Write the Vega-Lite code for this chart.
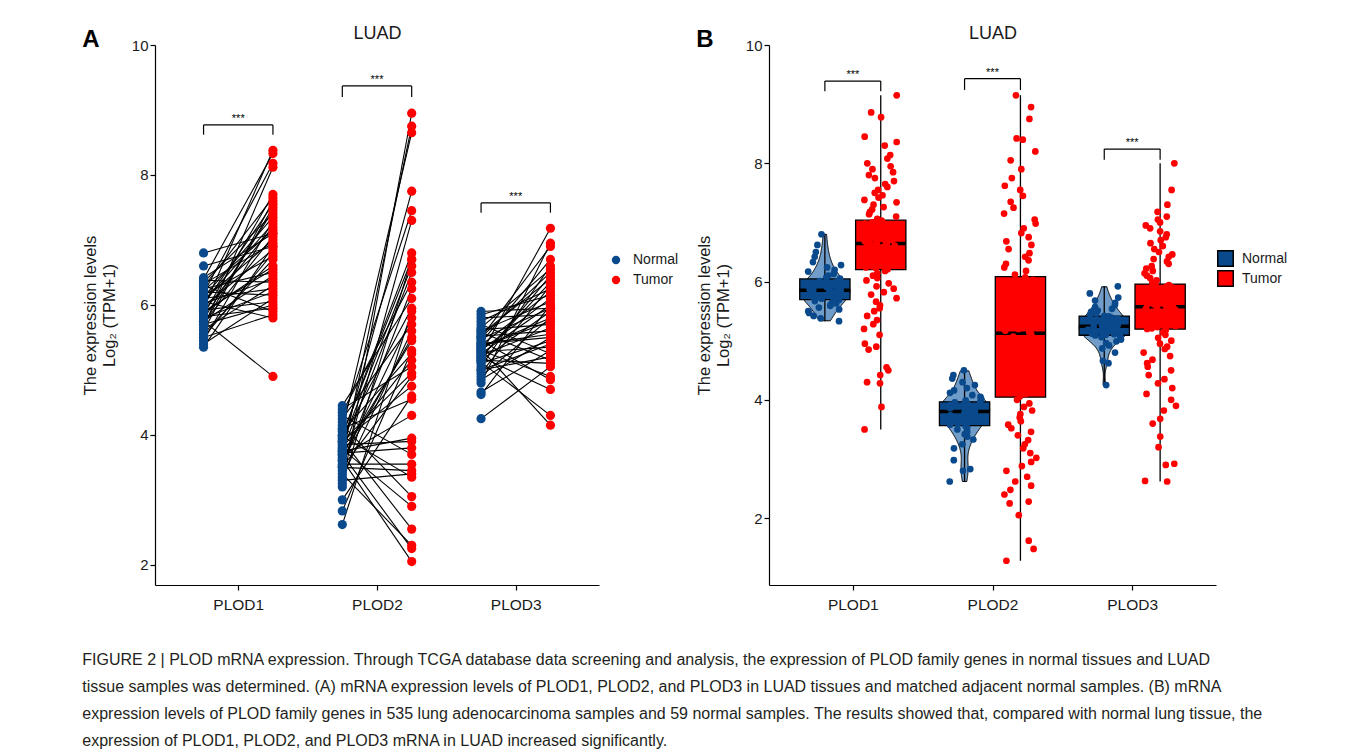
{
"$schema": "https://vega.github.io/schema/vega-lite/v6.json",
"padding": {"left": 82, "top": 24, "right": 5, "bottom": 5},
"background": "white",
"bounds": "flush",
"spacing": 170,
"config": {
 "font": "Liberation Sans",
 "view": {"stroke": null},
 "axis": {"grid": false, "domainColor": "#000", "domainWidth": 1.2, "tickColor": "#000", "tickWidth": 1.2, "tickSize": 5, "labelColor": "#1a1a1a", "labelFontSize": 15, "labelFont": "Liberation Sans", "titleFont": "Liberation Sans", "titleFontSize": 16.5, "titleFontWeight": "normal", "titleColor": "#1a1a1a", "titleLineHeight": 19},
 "legend": {"labelFont": "Liberation Sans", "labelFontSize": 14, "labelColor": "#1a1a1a"},
 "title": {"font": "Liberation Sans", "color": "#000"}
},
"title": {"text": ["FIGURE 2 | PLOD mRNA expression. Through TCGA database data screening and analysis, the expression of PLOD family genes in normal tissues and LUAD", "tissue samples was determined. (A) mRNA expression levels of PLOD1, PLOD2, and PLOD3 in LUAD tissues and matched adjacent normal samples. (B) mRNA", "expression levels of PLOD family genes in 535 lung adenocarcinoma samples and 59 normal samples. The results showed that, compared with normal lung tissue, the", "expression of PLOD1, PLOD2, and PLOD3 mRNA in LUAD increased significantly."], "orient": "bottom", "anchor": "start", "frame": "bounds", "fontSize": 16, "fontWeight": "normal", "lineHeight": 27.3, "offset": 39, "color": "#231f20"},
"datasets": {
 "pairs": [
  {"N1":5.35,"T1":6.9,"N2":2.62,"T2":5.9,"N3":4.25,"T3":5.05},
  {"N1":5.4,"T1":6.1,"N2":2.83,"T2":5.3,"N3":4.62,"T3":6.0},
  {"N1":5.45,"T1":7.3,"N2":3.0,"T2":4.6,"N3":4.66,"T3":5.3},
  {"N1":5.5,"T1":5.85,"N2":3.2,"T2":8.95,"N3":4.8,"T3":6.95},
  {"N1":5.55,"T1":6.7,"N2":3.25,"T2":6.7,"N3":4.85,"T3":5.5},
  {"N1":5.6,"T1":7.6,"N2":3.3,"T2":3.4,"N3":4.9,"T3":5.8},
  {"N1":5.62,"T1":6.3,"N2":3.35,"T2":5.6,"N3":4.95,"T3":6.3},
  {"N1":5.65,"T1":8.12,"N2":3.4,"T2":2.3,"N3":5.0,"T3":5.2},
  {"N1":5.7,"T1":6.0,"N2":3.45,"T2":7.3,"N3":5.05,"T3":6.6},
  {"N1":5.72,"T1":7.05,"N2":3.5,"T2":4.9,"N3":5.1,"T3":5.45},
  {"N1":5.75,"T1":6.45,"N2":3.52,"T2":6.25,"N3":5.12,"T3":4.3},
  {"N1":5.78,"T1":7.45,"N2":3.55,"T2":3.55,"N3":5.15,"T3":5.9},
  {"N1":5.8,"T1":6.2,"N2":3.6,"T2":5.8,"N3":5.18,"T3":6.45},
  {"N1":5.82,"T1":5.95,"N2":3.62,"T2":2.05,"N3":5.2,"T3":4.7},
  {"N1":5.85,"T1":7.7,"N2":3.65,"T2":8.75,"N3":5.22,"T3":5.65},
  {"N1":5.88,"T1":6.6,"N2":3.68,"T2":4.3,"N3":5.25,"T3":7.18},
  {"N1":5.9,"T1":7.2,"N2":3.7,"T2":5.45,"N3":5.28,"T3":5.35},
  {"N1":5.92,"T1":6.05,"N2":3.72,"T2":3.8,"N3":5.3,"T3":6.1},
  {"N1":5.95,"T1":8.38,"N2":3.75,"T2":6.5,"N3":5.32,"T3":4.15},
  {"N1":5.98,"T1":6.85,"N2":3.78,"T2":2.9,"N3":5.35,"T3":5.75},
  {"N1":6.0,"T1":7.55,"N2":3.8,"T2":5.15,"N3":5.38,"T3":6.2},
  {"N1":6.02,"T1":6.4,"N2":3.82,"T2":7.75,"N3":5.4,"T3":5.55},
  {"N1":6.05,"T1":5.8,"N2":3.85,"T2":3.9,"N3":5.42,"T3":6.7},
  {"N1":6.08,"T1":7.0,"N2":3.88,"T2":6.6,"N3":5.45,"T3":4.85},
  {"N1":6.1,"T1":6.25,"N2":3.9,"T2":4.75,"N3":5.48,"T3":5.95},
  {"N1":6.12,"T1":7.35,"N2":3.92,"T2":2.55,"N3":5.5,"T3":6.9},
  {"N1":6.15,"T1":6.75,"N2":3.95,"T2":5.95,"N3":5.52,"T3":5.6},
  {"N1":6.18,"T1":8.18,"N2":3.98,"T2":3.35,"N3":5.55,"T3":6.4},
  {"N1":6.2,"T1":6.15,"N2":4.0,"T2":6.8,"N3":5.58,"T3":5.15},
  {"N1":6.22,"T1":7.15,"N2":4.05,"T2":5.25,"N3":5.6,"T3":6.05},
  {"N1":6.25,"T1":6.5,"N2":4.08,"T2":8.65,"N3":5.62,"T3":5.7},
  {"N1":6.28,"T1":7.65,"N2":4.1,"T2":4.55,"N3":5.65,"T3":6.55},
  {"N1":6.3,"T1":5.9,"N2":4.15,"T2":3.05,"N3":5.7,"T3":5.25},
  {"N1":6.32,"T1":6.95,"N2":4.2,"T2":7.45,"N3":5.75,"T3":6.25},
  {"N1":6.35,"T1":7.4,"N2":4.25,"T2":5.7,"N3":5.8,"T3":5.85},
  {"N1":6.38,"T1":6.35,"N2":4.3,"T2":3.7,"N3":5.85,"T3":6.15},
  {"N1":6.4,"T1":8.33,"N2":4.35,"T2":6.35,"N3":5.9,"T3":5.95},
  {"N1":6.42,"T1":7.1,"N2":4.4,"T2":5.05,"N3":5.0,"T3":5.4},
  {"N1":5.5,"T1":6.8,"N2":4.45,"T2":6.1,"N3":5.2,"T3":6.35},
  {"N1":5.7,"T1":7.5,"N2":3.7,"T2":2.25,"N3":5.3,"T3":4.9},
  {"N1":5.9,"T1":6.55,"N2":3.75,"T2":3.95,"N3":5.4,"T3":5.5},
  {"N1":6.05,"T1":7.25,"N2":3.6,"T2":5.5,"N3":5.5,"T3":6.5},
  {"N1":6.6,"T1":6.9,"N2":3.9,"T2":4.95,"N3":5.15,"T3":5.1},
  {"N1":6.8,"T1":7.1,"N2":4.0,"T2":6.7,"N3":5.35,"T3":5.8},
  {"N1":5.75,"T1":4.9,"N2":3.5,"T2":3.45,"N3":5.25,"T3":6.0}
 ],
 "bracketsA": [
  {"g":1,"top":8.77,"bot":8.62},
  {"g":2,"top":9.37,"bot":9.2},
  {"g":3,"top":7.57,"bot":7.42}
 ],
 "bracketsB": [
  {"g":1,"top":9.39,"bot":9.22},
  {"g":2,"top":9.43,"bot":9.24},
  {"g":3,"top":8.24,"bot":8.06}
 ],
 "tcga": [
  {"group":"Normal","P1":5.33,"P2":2.62,"P3":4.25},
  {"group":"Normal","P1":5.38,"P2":2.8,"P3":4.62},
  {"group":"Normal","P1":5.42,"P2":2.83,"P3":4.66},
  {"group":"Normal","P1":5.47,"P2":2.98,"P3":4.8},
  {"group":"Normal","P1":5.5,"P2":3.18,"P3":4.87},
  {"group":"Normal","P1":5.53,"P2":3.25,"P3":4.92},
  {"group":"Normal","P1":5.56,"P2":3.33,"P3":4.96},
  {"group":"Normal","P1":5.59,"P2":3.38,"P3":4.99},
  {"group":"Normal","P1":5.61,"P2":3.42,"P3":5.02},
  {"group":"Normal","P1":5.63,"P2":3.46,"P3":5.04},
  {"group":"Normal","P1":5.65,"P2":3.5,"P3":5.06},
  {"group":"Normal","P1":5.67,"P2":3.53,"P3":5.07},
  {"group":"Normal","P1":5.69,"P2":3.56,"P3":5.09},
  {"group":"Normal","P1":5.71,"P2":3.58,"P3":5.1},
  {"group":"Normal","P1":5.72,"P2":3.6,"P3":5.11},
  {"group":"Normal","P1":5.74,"P2":3.62,"P3":5.12},
  {"group":"Normal","P1":5.75,"P2":3.64,"P3":5.14},
  {"group":"Normal","P1":5.77,"P2":3.66,"P3":5.15},
  {"group":"Normal","P1":5.78,"P2":3.68,"P3":5.16},
  {"group":"Normal","P1":5.8,"P2":3.7,"P3":5.18},
  {"group":"Normal","P1":5.81,"P2":3.72,"P3":5.19},
  {"group":"Normal","P1":5.82,"P2":3.74,"P3":5.2},
  {"group":"Normal","P1":5.83,"P2":3.76,"P3":5.21},
  {"group":"Normal","P1":5.84,"P2":3.78,"P3":5.22},
  {"group":"Normal","P1":5.85,"P2":3.8,"P3":5.24},
  {"group":"Normal","P1":5.86,"P2":3.81,"P3":5.25},
  {"group":"Normal","P1":5.87,"P2":3.82,"P3":5.26},
  {"group":"Normal","P1":5.88,"P2":3.83,"P3":5.27},
  {"group":"Normal","P1":5.9,"P2":3.85,"P3":5.29},
  {"group":"Normal","P1":5.91,"P2":3.86,"P3":5.3},
  {"group":"Normal","P1":5.93,"P2":3.87,"P3":5.31},
  {"group":"Normal","P1":5.94,"P2":3.89,"P3":5.33},
  {"group":"Normal","P1":5.96,"P2":3.9,"P3":5.34},
  {"group":"Normal","P1":5.97,"P2":3.91,"P3":5.36},
  {"group":"Normal","P1":5.99,"P2":3.93,"P3":5.37},
  {"group":"Normal","P1":6.01,"P2":3.94,"P3":5.39},
  {"group":"Normal","P1":6.03,"P2":3.96,"P3":5.41},
  {"group":"Normal","P1":6.05,"P2":3.97,"P3":5.42},
  {"group":"Normal","P1":6.07,"P2":3.99,"P3":5.44},
  {"group":"Normal","P1":6.1,"P2":4.02,"P3":5.46},
  {"group":"Normal","P1":6.13,"P2":4.05,"P3":5.49},
  {"group":"Normal","P1":6.17,"P2":4.08,"P3":5.51},
  {"group":"Normal","P1":6.2,"P2":4.12,"P3":5.54},
  {"group":"Normal","P1":6.24,"P2":4.16,"P3":5.57},
  {"group":"Normal","P1":6.28,"P2":4.2,"P3":5.6},
  {"group":"Normal","P1":6.33,"P2":4.25,"P3":5.64},
  {"group":"Normal","P1":6.42,"P2":4.3,"P3":5.68},
  {"group":"Normal","P1":6.5,"P2":4.36,"P3":5.73},
  {"group":"Normal","P1":6.62,"P2":4.42,"P3":5.8},
  {"group":"Normal","P1":6.8,"P2":4.5,"P3":5.92},
  {"group":"Tumor","P1":3.5,"P2":1.28,"P3":2.62},
  {"group":"Tumor","P1":3.88,"P2":1.48,"P3":2.63},
  {"group":"Tumor","P1":4.28,"P2":1.62,"P3":2.9},
  {"group":"Tumor","P1":4.3,"P2":2.05,"P3":2.92},
  {"group":"Tumor","P1":4.42,"P2":2.25,"P3":3.2},
  {"group":"Tumor","P1":4.5,"P2":2.28,"P3":3.38},
  {"group":"Tumor","P1":4.55,"P2":2.4,"P3":3.6},
  {"group":"Tumor","P1":4.85,"P2":2.48,"P3":3.68},
  {"group":"Tumor","P1":4.9,"P2":2.55,"P3":3.82},
  {"group":"Tumor","P1":4.95,"P2":2.62,"P3":3.9},
  {"group":"Tumor","P1":5.1,"P2":2.7,"P3":4.0},
  {"group":"Tumor","P1":5.2,"P2":2.8,"P3":4.1},
  {"group":"Tumor","P1":5.28,"P2":2.88,"P3":4.2},
  {"group":"Tumor","P1":5.35,"P2":2.95,"P3":4.28},
  {"group":"Tumor","P1":5.42,"P2":3.02,"P3":4.35},
  {"group":"Tumor","P1":5.5,"P2":3.1,"P3":4.42},
  {"group":"Tumor","P1":5.55,"P2":3.18,"P3":4.5},
  {"group":"Tumor","P1":5.6,"P2":3.25,"P3":4.56},
  {"group":"Tumor","P1":5.66,"P2":3.32,"P3":4.62},
  {"group":"Tumor","P1":5.72,"P2":3.4,"P3":4.68},
  {"group":"Tumor","P1":5.78,"P2":3.46,"P3":4.74},
  {"group":"Tumor","P1":5.82,"P2":3.52,"P3":4.8},
  {"group":"Tumor","P1":5.88,"P2":3.58,"P3":4.86},
  {"group":"Tumor","P1":5.92,"P2":3.64,"P3":4.9},
  {"group":"Tumor","P1":5.97,"P2":3.7,"P3":4.95},
  {"group":"Tumor","P1":6.02,"P2":3.76,"P3":5.0},
  {"group":"Tumor","P1":6.06,"P2":3.82,"P3":5.05},
  {"group":"Tumor","P1":6.1,"P2":3.88,"P3":5.1},
  {"group":"Tumor","P1":6.14,"P2":3.94,"P3":5.14},
  {"group":"Tumor","P1":6.18,"P2":4.0,"P3":5.18},
  {"group":"Tumor","P1":6.21,"P2":4.06,"P3":5.2},
  {"group":"Tumor","P1":6.23,"P2":4.1,"P3":5.21},
  {"group":"Tumor","P1":6.24,"P2":4.14,"P3":5.23},
  {"group":"Tumor","P1":6.26,"P2":4.17,"P3":5.24},
  {"group":"Tumor","P1":6.28,"P2":4.2,"P3":5.25},
  {"group":"Tumor","P1":6.3,"P2":4.24,"P3":5.27},
  {"group":"Tumor","P1":6.31,"P2":4.28,"P3":5.28},
  {"group":"Tumor","P1":6.33,"P2":4.31,"P3":5.3},
  {"group":"Tumor","P1":6.35,"P2":4.35,"P3":5.31},
  {"group":"Tumor","P1":6.36,"P2":4.38,"P3":5.32},
  {"group":"Tumor","P1":6.38,"P2":4.42,"P3":5.34},
  {"group":"Tumor","P1":6.4,"P2":4.45,"P3":5.35},
  {"group":"Tumor","P1":6.41,"P2":4.49,"P3":5.36},
  {"group":"Tumor","P1":6.43,"P2":4.52,"P3":5.38},
  {"group":"Tumor","P1":6.45,"P2":4.56,"P3":5.39},
  {"group":"Tumor","P1":6.46,"P2":4.6,"P3":5.4},
  {"group":"Tumor","P1":6.48,"P2":4.63,"P3":5.42},
  {"group":"Tumor","P1":6.5,"P2":4.67,"P3":5.43},
  {"group":"Tumor","P1":6.51,"P2":4.7,"P3":5.44},
  {"group":"Tumor","P1":6.53,"P2":4.74,"P3":5.46},
  {"group":"Tumor","P1":6.54,"P2":4.78,"P3":5.47},
  {"group":"Tumor","P1":6.56,"P2":4.81,"P3":5.48},
  {"group":"Tumor","P1":6.57,"P2":4.85,"P3":5.5},
  {"group":"Tumor","P1":6.58,"P2":4.88,"P3":5.51},
  {"group":"Tumor","P1":6.59,"P2":4.92,"P3":5.52},
  {"group":"Tumor","P1":6.6,"P2":4.96,"P3":5.53},
  {"group":"Tumor","P1":6.61,"P2":4.99,"P3":5.54},
  {"group":"Tumor","P1":6.62,"P2":5.03,"P3":5.55},
  {"group":"Tumor","P1":6.63,"P2":5.07,"P3":5.56},
  {"group":"Tumor","P1":6.64,"P2":5.11,"P3":5.57},
  {"group":"Tumor","P1":6.65,"P2":5.14,"P3":5.58},
  {"group":"Tumor","P1":6.66,"P2":5.17,"P3":5.59},
  {"group":"Tumor","P1":6.68,"P2":5.2,"P3":5.61},
  {"group":"Tumor","P1":6.69,"P2":5.24,"P3":5.62},
  {"group":"Tumor","P1":6.7,"P2":5.27,"P3":5.63},
  {"group":"Tumor","P1":6.72,"P2":5.3,"P3":5.65},
  {"group":"Tumor","P1":6.73,"P2":5.34,"P3":5.66},
  {"group":"Tumor","P1":6.74,"P2":5.37,"P3":5.67},
  {"group":"Tumor","P1":6.76,"P2":5.4,"P3":5.69},
  {"group":"Tumor","P1":6.77,"P2":5.44,"P3":5.7},
  {"group":"Tumor","P1":6.78,"P2":5.47,"P3":5.71},
  {"group":"Tumor","P1":6.8,"P2":5.5,"P3":5.73},
  {"group":"Tumor","P1":6.81,"P2":5.53,"P3":5.74},
  {"group":"Tumor","P1":6.82,"P2":5.56,"P3":5.75},
  {"group":"Tumor","P1":6.84,"P2":5.6,"P3":5.77},
  {"group":"Tumor","P1":6.85,"P2":5.63,"P3":5.78},
  {"group":"Tumor","P1":6.86,"P2":5.66,"P3":5.79},
  {"group":"Tumor","P1":6.88,"P2":5.69,"P3":5.8},
  {"group":"Tumor","P1":6.89,"P2":5.72,"P3":5.82},
  {"group":"Tumor","P1":6.9,"P2":5.75,"P3":5.83},
  {"group":"Tumor","P1":6.92,"P2":5.79,"P3":5.84},
  {"group":"Tumor","P1":6.93,"P2":5.82,"P3":5.86},
  {"group":"Tumor","P1":6.94,"P2":5.85,"P3":5.87},
  {"group":"Tumor","P1":6.96,"P2":5.88,"P3":5.88},
  {"group":"Tumor","P1":6.97,"P2":5.91,"P3":5.89},
  {"group":"Tumor","P1":6.98,"P2":5.94,"P3":5.9},
  {"group":"Tumor","P1":6.99,"P2":5.97,"P3":5.91},
  {"group":"Tumor","P1":7.0,"P2":6.0,"P3":5.92},
  {"group":"Tumor","P1":7.01,"P2":6.03,"P3":5.94},
  {"group":"Tumor","P1":7.03,"P2":6.07,"P3":5.95},
  {"group":"Tumor","P1":7.06,"P2":6.12,"P3":5.98},
  {"group":"Tumor","P1":7.1,"P2":6.18,"P3":6.02},
  {"group":"Tumor","P1":7.14,"P2":6.24,"P3":6.06},
  {"group":"Tumor","P1":7.18,"P2":6.3,"P3":6.1},
  {"group":"Tumor","P1":7.22,"P2":6.36,"P3":6.14},
  {"group":"Tumor","P1":7.26,"P2":6.42,"P3":6.18},
  {"group":"Tumor","P1":7.3,"P2":6.48,"P3":6.22},
  {"group":"Tumor","P1":7.34,"P2":6.55,"P3":6.26},
  {"group":"Tumor","P1":7.38,"P2":6.62,"P3":6.3},
  {"group":"Tumor","P1":7.42,"P2":6.68,"P3":6.34},
  {"group":"Tumor","P1":7.46,"P2":6.75,"P3":6.38},
  {"group":"Tumor","P1":7.5,"P2":6.82,"P3":6.42},
  {"group":"Tumor","P1":7.55,"P2":6.9,"P3":6.46},
  {"group":"Tumor","P1":7.6,"P2":6.98,"P3":6.5},
  {"group":"Tumor","P1":7.65,"P2":7.05,"P3":6.55},
  {"group":"Tumor","P1":7.7,"P2":7.15,"P3":6.6},
  {"group":"Tumor","P1":7.75,"P2":7.25,"P3":6.65},
  {"group":"Tumor","P1":7.8,"P2":7.35,"P3":6.7},
  {"group":"Tumor","P1":7.85,"P2":7.45,"P3":6.75},
  {"group":"Tumor","P1":7.9,"P2":7.55,"P3":6.8},
  {"group":"Tumor","P1":7.95,"P2":7.62,"P3":6.85},
  {"group":"Tumor","P1":8.0,"P2":7.75,"P3":6.9},
  {"group":"Tumor","P1":8.08,"P2":7.9,"P3":6.95},
  {"group":"Tumor","P1":8.14,"P2":8.05,"P3":7.0},
  {"group":"Tumor","P1":8.3,"P2":8.2,"P3":7.05},
  {"group":"Tumor","P1":8.36,"P2":8.4,"P3":7.1},
  {"group":"Tumor","P1":8.45,"P2":8.42,"P3":7.18},
  {"group":"Tumor","P1":8.78,"P2":8.75,"P3":7.3},
  {"group":"Tumor","P1":8.86,"P2":8.95,"P3":7.55},
  {"group":"Tumor","P1":9.15,"P2":9.15,"P3":8.0}
 ]
},
"hconcat": [
 {
  "width": 444, "height": 540,
  "title": {"text": "A", "anchor": "start", "frame": "bounds", "fontSize": 24, "fontWeight": "bold", "offset": -28},
  "layer": [
   {
    "data": {"name": "pairs"},
    "transform": [
     {"window": [{"op": "row_number", "as": "id"}]},
     {"fold": ["N1","T1","N2","T2","N3","T3"], "as": ["key","v"]},
     {"calculate": "toNumber(substring(datum.key,1))", "as": "g"},
     {"calculate": "substring(datum.key,0,1) == 'N' ? 'Normal' : 'Tumor'", "as": "group"},
     {"calculate": "datum.g + (datum.group == 'Normal' ? -0.25 : 0.25)", "as": "pos"}
    ],
    "mark": {"type": "line", "color": "#000", "strokeWidth": 1.1},
    "encoding": {
     "x": {"field": "pos", "type": "quantitative", "scale": {"domain": [0.4,3.6], "nice": false, "zero": false}, "axis": {"values": [1,2,3], "labelExpr": "'PLOD' + datum.value", "title": null, "labelPadding": 7, "labelFontSize": 15.5}},
     "y": {"field": "v", "type": "quantitative", "scale": {"domain": [1.69,10], "nice": false, "zero": false}, "axis": {"values": [2,4,6,8,10], "title": ["The expression levels","Log₂ (TPM+1)"], "titlePadding": 14}},
     "detail": [{"field": "id"},{"field": "g"}]
    }
   },
   {
    "data": {"name": "pairs"},
    "transform": [
     {"window": [{"op": "row_number", "as": "id"}]},
     {"fold": ["N1","T1","N2","T2","N3","T3"], "as": ["key","v"]},
     {"calculate": "toNumber(substring(datum.key,1))", "as": "g"},
     {"calculate": "substring(datum.key,0,1) == 'N' ? 'Normal' : 'Tumor'", "as": "group"},
     {"calculate": "datum.g + (datum.group == 'Normal' ? -0.25 : 0.25)", "as": "pos"}
    ],
    "mark": {"type": "point", "filled": true, "size": 85, "opacity": 1, "strokeWidth": 0},
    "encoding": {
     "x": {"field": "pos", "type": "quantitative", "scale": {"domain": [0.4,3.6], "nice": false, "zero": false}, "axis": null},
     "y": {"field": "v", "type": "quantitative", "scale": {"domain": [1.69,10], "nice": false, "zero": false}, "axis": null},
     "color": {"field": "group", "type": "nominal", "scale": {"domain": ["Normal","Tumor"], "range": ["#0a4a8c","#fe0000"]}, "legend": {"title": null, "orient": "none", "legendX": 454, "legendY": 208, "symbolType": "circle", "symbolSize": 70, "symbolStrokeWidth": 0, "rowPadding": 6, "padding": 0, "labelOffset": 10, "labelFontSize": 14}}
    }
   },
   {
    "data": {"name": "bracketsA"},
    "transform": [{"calculate": "datum.g - 0.25", "as": "xa"},{"calculate": "datum.g + 0.25", "as": "xb"}],
    "mark": {"type": "rule", "color": "#000", "strokeWidth": 1.2},
    "encoding": {
     "x": {"field": "xa", "type": "quantitative", "scale": {"domain": [0.4,3.6], "nice": false, "zero": false}, "axis": {"orient": "top", "title": "LUAD", "titleFontSize": 18, "titlePadding": 3, "labels": false, "ticks": false, "domain": false}},
     "x2": {"field": "xb"},
     "y": {"field": "top", "type": "quantitative", "scale": {"domain": [1.69,10], "nice": false, "zero": false}, "axis": null}
    }
   },
   {
    "data": {"name": "bracketsA"},
    "transform": [{"calculate": "datum.g - 0.25", "as": "xa"}],
    "mark": {"type": "rule", "color": "#000", "strokeWidth": 1.2},
    "encoding": {
     "x": {"field": "xa", "type": "quantitative", "scale": {"domain": [0.4,3.6], "nice": false, "zero": false}, "axis": null},
     "y": {"field": "bot", "type": "quantitative", "scale": {"domain": [1.69,10], "nice": false, "zero": false}, "axis": null},
     "y2": {"field": "top"}
    }
   },
   {
    "data": {"name": "bracketsA"},
    "transform": [{"calculate": "datum.g + 0.25", "as": "xb"}],
    "mark": {"type": "rule", "color": "#000", "strokeWidth": 1.2},
    "encoding": {
     "x": {"field": "xb", "type": "quantitative", "scale": {"domain": [0.4,3.6], "nice": false, "zero": false}, "axis": null},
     "y": {"field": "bot", "type": "quantitative", "scale": {"domain": [1.69,10], "nice": false, "zero": false}, "axis": null},
     "y2": {"field": "top"}
    }
   },
   {
    "data": {"name": "bracketsA"},
    "mark": {"type": "text", "text": "***", "fontSize": 11, "dy": -3, "baseline": "alphabetic", "color": "#000"},
    "encoding": {
     "x": {"field": "g", "type": "quantitative", "scale": {"domain": [0.4,3.6], "nice": false, "zero": false}, "axis": null},
     "y": {"field": "top", "type": "quantitative", "scale": {"domain": [1.69,10], "nice": false, "zero": false}, "axis": null}
    }
   }
  ],
  "resolve": {"axis": {"x": "independent", "y": "independent"}}
 },
 {
  "width": 447, "height": 540,
  "title": {"text": "B", "anchor": "start", "frame": "bounds", "fontSize": 24, "fontWeight": "bold", "offset": -28},
  "layer": [
   {
    "data": {"name": "tcga"},
    "transform": [
     {"filter": "datum.group == 'Normal'"},
     {"fold": ["P1","P2","P3"], "as": ["key","v"]},
     {"calculate": "toNumber(substring(datum.key,1))", "as": "g"},
     {"joinaggregate": [{"op": "min", "field": "v", "as": "vmin"},{"op": "max", "field": "v", "as": "vmax"}], "groupby": ["g"]},
     {"density": "v", "groupby": ["g","vmin","vmax"], "steps": 400, "as": ["value","density"]},
     {"filter": "datum.value >= datum.vmin && datum.value <= datum.vmax"},
     {"joinaggregate": [{"op": "max", "field": "density", "as": "dmax"}], "groupby": ["g"]},
     {"calculate": "datum.g - 0.2 - 0.18 * datum.density / datum.dmax", "as": "xl"},
     {"calculate": "datum.g - 0.2 + 0.18 * datum.density / datum.dmax", "as": "xr"}
    ],
    "mark": {"type": "area", "orient": "horizontal", "fill": "#6f9cc8", "stroke": "#000", "strokeWidth": 1, "opacity": 1},
    "encoding": {
     "x": {"field": "xl", "type": "quantitative", "scale": {"domain": [0.4,3.6], "nice": false, "zero": false}, "axis": {"values": [1,2,3], "labelExpr": "'PLOD' + datum.value", "title": null, "labelPadding": 7, "labelFontSize": 15.5}},
     "x2": {"field": "xr"},
     "y": {"field": "value", "type": "quantitative", "scale": {"domain": [0.87,10], "nice": false, "zero": false}, "axis": {"values": [2,4,6,8,10], "title": ["The expression levels","Log₂ (TPM+1)"], "titlePadding": 14}},
     "detail": {"field": "g"}
    }
   },
   {
    "data": {"name": "tcga"},
    "transform": [
     {"fold": ["P1","P2","P3"], "as": ["key","v"]},
     {"calculate": "toNumber(substring(datum.key,1))", "as": "g"},
     {"calculate": "datum.g + (datum.group == 'Normal' ? -0.2 : 0.2)", "as": "pos"},
     {"aggregate": [{"op": "min", "field": "v", "as": "lo"},{"op": "max", "field": "v", "as": "hi"}], "groupby": ["g","group","pos"]}
    ],
    "mark": {"type": "rule", "color": "#000", "strokeWidth": 1.3},
    "encoding": {
     "x": {"field": "pos", "type": "quantitative", "scale": {"domain": [0.4,3.6], "nice": false, "zero": false}, "axis": null},
     "y": {"field": "lo", "type": "quantitative", "scale": {"domain": [0.87,10], "nice": false, "zero": false}, "axis": null},
     "y2": {"field": "hi"}
    }
   },
   {
    "data": {"name": "tcga"},
    "transform": [
     {"fold": ["P1","P2","P3"], "as": ["key","v"]},
     {"calculate": "toNumber(substring(datum.key,1))", "as": "g"},
     {"calculate": "datum.g + (datum.group == 'Normal' ? -0.2 : 0.2)", "as": "pos"},
     {"aggregate": [{"op": "q1", "field": "v", "as": "q1"},{"op": "q3", "field": "v", "as": "q3"}], "groupby": ["g","group","pos"]},
     {"calculate": "datum.pos - 0.18", "as": "xl"},
     {"calculate": "datum.pos + 0.18", "as": "xr"}
    ],
    "mark": {"type": "rect", "stroke": "#000", "strokeWidth": 1.3, "opacity": 1},
    "encoding": {
     "x": {"field": "xl", "type": "quantitative", "scale": {"domain": [0.4,3.6], "nice": false, "zero": false}, "axis": null},
     "x2": {"field": "xr"},
     "y": {"field": "q1", "type": "quantitative", "scale": {"domain": [0.87,10], "nice": false, "zero": false}, "axis": null},
     "y2": {"field": "q3"},
     "color": {"field": "group", "type": "nominal", "scale": {"domain": ["Normal","Tumor"], "range": ["#0a4a8c","#fe0000"]}, "legend": null}
    }
   },
   {
    "data": {"name": "tcga"},
    "transform": [
     {"fold": ["P1","P2","P3"], "as": ["key","v"]},
     {"calculate": "toNumber(substring(datum.key,1))", "as": "g"},
     {"calculate": "datum.g + (datum.group == 'Normal' ? -0.2 : 0.2)", "as": "pos"},
     {"aggregate": [{"op": "median", "field": "v", "as": "med"}], "groupby": ["g","group","pos"]},
     {"calculate": "datum.pos - 0.18", "as": "xl"},
     {"calculate": "datum.pos + 0.18", "as": "xr"}
    ],
    "mark": {"type": "rule", "color": "#000", "strokeWidth": 3.5},
    "encoding": {
     "x": {"field": "xl", "type": "quantitative", "scale": {"domain": [0.4,3.6], "nice": false, "zero": false}, "axis": null},
     "x2": {"field": "xr"},
     "y": {"field": "med", "type": "quantitative", "scale": {"domain": [0.87,10], "nice": false, "zero": false}, "axis": null}
    }
   },
   {
    "data": {"name": "tcga"},
    "transform": [
     {"fold": ["P1","P2","P3"], "as": ["key","v"]},
     {"window": [{"op": "row_number", "as": "rn"}]},
     {"calculate": "toNumber(substring(datum.key,1))", "as": "g"},
     {"calculate": "datum.g + (datum.group == 'Normal' ? -0.2 : 0.2)", "as": "pos"},
     {"calculate": "datum.pos + 0.24 * ((abs(sin(datum.rn * 12.9898) * 43758.5453) % 1) - 0.5)", "as": "jx"}
    ],
    "mark": {"type": "point", "filled": true, "size": 45, "opacity": 1},
    "encoding": {
     "x": {"field": "jx", "type": "quantitative", "scale": {"domain": [0.4,3.6], "nice": false, "zero": false}, "axis": null},
     "y": {"field": "v", "type": "quantitative", "scale": {"domain": [0.87,10], "nice": false, "zero": false}, "axis": null},
     "color": {"field": "group", "type": "nominal", "scale": {"domain": ["Normal","Tumor"], "range": ["#0a4a8c","#fe0000"]}, "legend": {"title": null, "orient": "none", "legendX": 448, "legendY": 205, "symbolType": "square", "symbolSize": 240, "symbolStrokeColor": "#000", "symbolStrokeWidth": 1.5, "symbolOpacity": 1, "rowPadding": -3, "padding": 0, "labelOffset": 8, "labelFontSize": 14}}
    }
   },
   {
    "data": {"name": "bracketsB"},
    "transform": [{"calculate": "datum.g - 0.2", "as": "xa"},{"calculate": "datum.g + 0.2", "as": "xb"}],
    "mark": {"type": "rule", "color": "#000", "strokeWidth": 1.2},
    "encoding": {
     "x": {"field": "xa", "type": "quantitative", "scale": {"domain": [0.4,3.6], "nice": false, "zero": false}, "axis": {"orient": "top", "title": "LUAD", "titleFontSize": 18, "titlePadding": 3, "labels": false, "ticks": false, "domain": false}},
     "x2": {"field": "xb"},
     "y": {"field": "top", "type": "quantitative", "scale": {"domain": [0.87,10], "nice": false, "zero": false}, "axis": null}
    }
   },
   {
    "data": {"name": "bracketsB"},
    "transform": [{"calculate": "datum.g - 0.2", "as": "xa"}],
    "mark": {"type": "rule", "color": "#000", "strokeWidth": 1.2},
    "encoding": {
     "x": {"field": "xa", "type": "quantitative", "scale": {"domain": [0.4,3.6], "nice": false, "zero": false}, "axis": null},
     "y": {"field": "bot", "type": "quantitative", "scale": {"domain": [0.87,10], "nice": false, "zero": false}, "axis": null},
     "y2": {"field": "top"}
    }
   },
   {
    "data": {"name": "bracketsB"},
    "transform": [{"calculate": "datum.g + 0.2", "as": "xb"}],
    "mark": {"type": "rule", "color": "#000", "strokeWidth": 1.2},
    "encoding": {
     "x": {"field": "xb", "type": "quantitative", "scale": {"domain": [0.4,3.6], "nice": false, "zero": false}, "axis": null},
     "y": {"field": "bot", "type": "quantitative", "scale": {"domain": [0.87,10], "nice": false, "zero": false}, "axis": null},
     "y2": {"field": "top"}
    }
   },
   {
    "data": {"name": "bracketsB"},
    "mark": {"type": "text", "text": "***", "fontSize": 11, "dy": -3, "baseline": "alphabetic", "color": "#000"},
    "encoding": {
     "x": {"field": "g", "type": "quantitative", "scale": {"domain": [0.4,3.6], "nice": false, "zero": false}, "axis": null},
     "y": {"field": "top", "type": "quantitative", "scale": {"domain": [0.87,10], "nice": false, "zero": false}, "axis": null}
    }
   }
  ],
  "resolve": {"axis": {"x": "independent", "y": "independent"}, "legend": {"color": "independent"}}
 }
]
}
